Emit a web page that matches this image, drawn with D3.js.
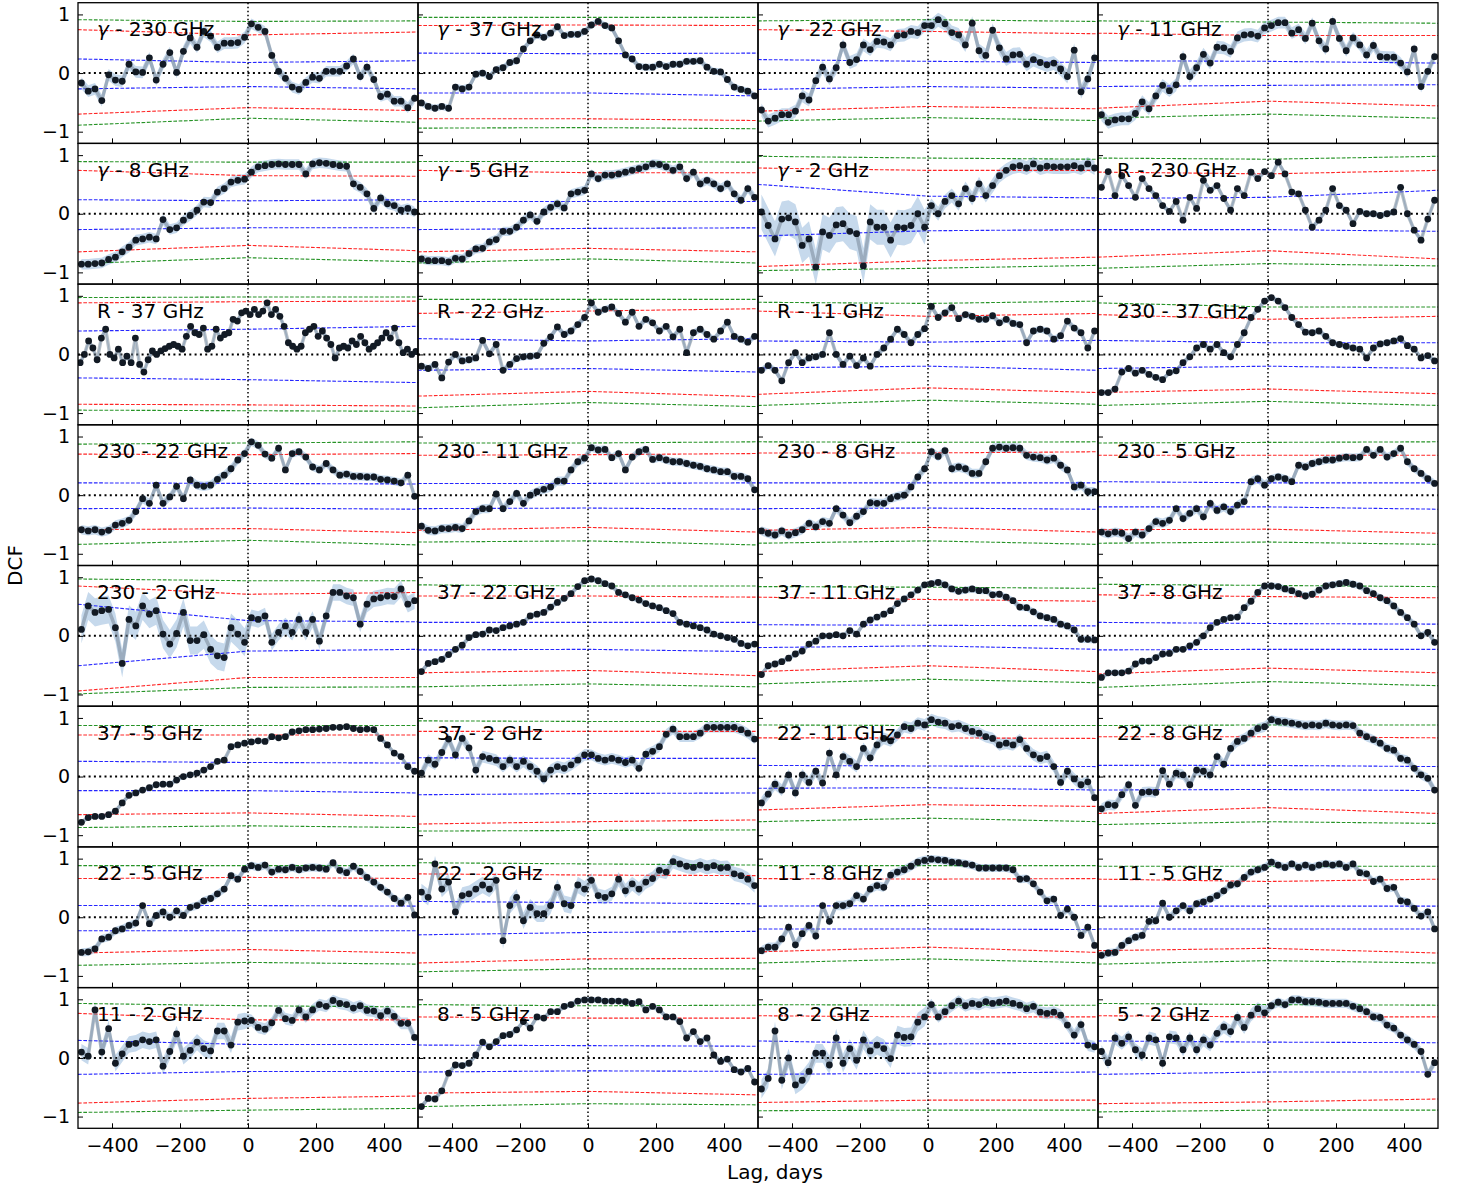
<!DOCTYPE html>
<html>
<head>
<meta charset="utf-8">
<script src="https://cdn.jsdelivr.net/npm/d3@7"></script>
<style>
  body { margin: 0; background: #fff; }
  svg { display: block; }
  text { font-family: "DejaVu Sans", sans-serif; fill: #000; }
</style>
</head>
<body>
<svg id="chart" width="1461" height="1190"></svg>
<script>
// ---- lag bins (days) ----
const lags = [-490,-470,-450,-430,-410,-390,-370,-350,-330,-310,-290,-270,-250,-230,-210,-190,-170,-150,-130,-110,-90,-70,-50,-30,-10,10,30,50,70,90,110,130,150,170,190,210,230,250,270,290,310,330,350,370,390,410,430,450,470,490];
const lagsFine = [-493.75,-481.25,-468.75,-456.25,-443.75,-431.25,-418.75,-406.25,-393.75,-381.25,-368.75,-356.25,-343.75,-331.25,-318.75,-306.25,-293.75,-281.25,-268.75,-256.25,-243.75,-231.25,-218.75,-206.25,-193.75,-181.25,-168.75,-156.25,-143.75,-131.25,-118.75,-106.25,-93.75,-81.25,-68.75,-56.25,-43.75,-31.25,-18.75,-6.25,6.25,18.75,31.25,43.75,56.25,68.75,81.25,93.75,106.25,118.75,131.25,143.75,156.25,168.75,181.25,193.75,206.25,218.75,231.25,243.75,256.25,268.75,281.25,293.75,306.25,318.75,331.25,343.75,356.25,368.75,381.25,393.75,406.25,418.75,431.25,443.75,456.25,468.75,481.25,493.75];

// ---- panel titles ----
const panelLabels = ["γ - 230 GHz","γ - 37 GHz","γ - 22 GHz","γ - 11 GHz","γ - 8 GHz","γ - 5 GHz","γ - 2 GHz","R - 230 GHz","R - 37 GHz","R - 22 GHz","R - 11 GHz","230 - 37 GHz","230 - 22 GHz","230 - 11 GHz","230 - 8 GHz","230 - 5 GHz","230 - 2 GHz","37 - 22 GHz","37 - 11 GHz","37 - 8 GHz","37 - 5 GHz","37 - 2 GHz","22 - 11 GHz","22 - 8 GHz","22 - 5 GHz","22 - 2 GHz","11 - 8 GHz","11 - 5 GHz","11 - 2 GHz","8 - 5 GHz","8 - 2 GHz","5 - 2 GHz"];

// ---- axis ticks ----
const xTickValues = [-400,-200,0,200,400];
const xTickLabels = ["−400","−200","0","200","400"];
const yTickValues = [-1,0,1];
const yTickLabels = ["−1","0","1"];

// ---- DCF values per pair ----
const dcf_g230 = [-0.17,-0.31,-0.27,-0.47,-0.03,-0.12,-0.14,0.15,0.02,0.01,0.26,-0.12,0.15,0.35,0.01,0.37,0.60,0.44,0.71,0.63,0.44,0.51,0.51,0.52,0.61,0.84,0.78,0.71,0.30,0.03,-0.09,-0.24,-0.28,-0.16,-0.07,-0.09,0.03,0.03,0.03,0.12,0.24,-0.06,0.10,-0.11,-0.40,-0.36,-0.48,-0.48,-0.59,-0.43];
const dcf_g37 = [-0.51,-0.57,-0.60,-0.57,-0.60,-0.24,-0.27,-0.24,-0.02,0.00,-0.06,0.06,0.09,0.18,0.21,0.41,0.55,0.65,0.61,0.68,0.79,0.64,0.66,0.66,0.71,0.82,0.88,0.81,0.77,0.55,0.31,0.24,0.11,0.10,0.10,0.15,0.11,0.15,0.15,0.20,0.20,0.21,0.10,0.03,0.02,-0.11,-0.24,-0.28,-0.31,-0.39];
const dcf_g22 = [-0.63,-0.82,-0.77,-0.71,-0.71,-0.65,-0.39,-0.46,-0.13,0.10,-0.10,0.09,0.48,0.18,0.23,0.48,0.40,0.54,0.53,0.48,0.64,0.65,0.71,0.69,0.81,0.81,0.91,0.84,0.69,0.65,0.48,0.85,0.38,0.30,0.73,0.43,0.24,0.31,0.32,0.15,0.23,0.18,0.14,0.17,0.07,-0.06,0.39,-0.32,-0.10,0.26];
const dcf_g11 = [-0.71,-0.84,-0.80,-0.78,-0.78,-0.69,-0.49,-0.61,-0.39,-0.21,-0.30,-0.20,0.28,-0.06,0.09,0.32,0.17,0.44,0.43,0.37,0.60,0.65,0.66,0.63,0.77,0.81,0.86,0.86,0.68,0.74,0.59,0.85,0.55,0.41,0.88,0.59,0.38,0.60,0.48,0.31,0.47,0.28,0.27,0.27,0.17,0.02,0.41,-0.23,0.03,0.28];
const dcf_g8 = [-0.86,-0.86,-0.85,-0.84,-0.78,-0.74,-0.65,-0.57,-0.45,-0.43,-0.40,-0.43,-0.10,-0.27,-0.24,-0.11,-0.03,0.06,0.20,0.19,0.37,0.43,0.54,0.57,0.59,0.71,0.80,0.82,0.84,0.85,0.84,0.84,0.84,0.68,0.85,0.87,0.86,0.84,0.82,0.81,0.51,0.45,0.34,0.09,0.27,0.17,0.14,0.06,0.09,0.03];
const dcf_g5 = [-0.77,-0.80,-0.80,-0.80,-0.82,-0.76,-0.77,-0.68,-0.60,-0.59,-0.48,-0.44,-0.30,-0.30,-0.23,-0.11,-0.02,-0.13,0.03,0.11,0.17,0.10,0.34,0.37,0.40,0.68,0.60,0.66,0.66,0.68,0.71,0.74,0.77,0.80,0.85,0.84,0.80,0.74,0.80,0.60,0.71,0.51,0.57,0.51,0.43,0.51,0.34,0.23,0.43,0.28];
const dcf_g2 = [0.03,-0.20,-0.43,-0.09,-0.07,-0.14,-0.54,-0.43,-0.91,-0.31,-0.37,-0.19,-0.17,-0.30,-0.34,-0.89,-0.14,-0.23,-0.23,-0.45,-0.23,-0.24,-0.20,0.00,-0.23,0.14,0.00,0.21,0.31,0.17,0.43,0.26,0.51,0.31,0.48,0.65,0.74,0.80,0.82,0.78,0.85,0.78,0.81,0.80,0.80,0.80,0.82,0.78,0.85,0.78];
const dcf_r230 = [0.45,0.72,0.31,0.65,0.48,0.28,0.60,0.43,0.31,0.14,0.04,0.21,-0.11,0.28,0.09,0.57,0.40,0.48,0.26,0.06,0.43,0.31,0.71,0.60,0.72,0.65,0.88,0.68,0.37,0.34,0.06,-0.23,-0.11,0.06,0.43,0.14,0.06,-0.17,0.04,0.00,0.00,-0.03,0.00,0.03,0.45,0.00,-0.28,-0.45,-0.09,0.23];
const dcf_r37 = [-0.14,0.00,0.23,0.11,-0.09,0.28,0.43,0.00,-0.06,0.09,-0.14,-0.03,-0.14,0.28,-0.17,-0.30,-0.09,0.06,0.00,0.06,0.10,0.14,0.17,0.14,0.09,0.31,0.48,0.37,0.34,0.45,0.09,0.14,0.43,0.28,0.34,0.37,0.60,0.57,0.71,0.74,0.68,0.77,0.68,0.74,0.88,0.68,0.77,0.65,0.48,0.20,0.14,0.09,0.14,0.37,0.43,0.48,0.31,0.40,0.28,0.17,-0.06,0.11,0.14,0.11,0.23,0.17,0.31,0.20,0.09,0.14,0.20,0.28,0.37,0.28,0.45,0.20,0.03,0.09,0.00,0.05];
const dcf_r22 = [-0.20,-0.24,-0.17,-0.40,-0.13,0.00,-0.11,-0.09,-0.06,0.24,0.01,0.17,-0.27,-0.17,-0.07,-0.04,-0.03,-0.02,0.19,0.30,0.47,0.34,0.40,0.51,0.63,0.88,0.72,0.77,0.81,0.70,0.55,0.72,0.48,0.60,0.54,0.40,0.48,0.30,0.43,0.03,0.37,0.43,0.34,0.26,0.40,0.55,0.31,0.26,0.21,0.31];
const dcf_r11 = [-0.27,-0.19,-0.27,-0.45,-0.14,0.03,-0.14,-0.06,-0.04,0.00,0.37,0.00,-0.17,-0.03,-0.19,-0.06,-0.20,0.00,0.11,0.26,0.43,0.34,0.20,0.34,0.44,0.82,0.63,0.71,0.80,0.61,0.68,0.65,0.60,0.60,0.66,0.54,0.60,0.53,0.51,0.20,0.40,0.43,0.40,0.26,0.32,0.57,0.45,0.37,0.11,0.40];
const dcf_230_37 = [-0.65,-0.65,-0.59,-0.30,-0.24,-0.32,-0.27,-0.34,-0.39,-0.43,-0.31,-0.28,-0.14,-0.04,0.11,0.17,0.09,0.17,0.03,-0.04,0.17,0.37,0.63,0.77,0.91,0.97,0.91,0.80,0.63,0.51,0.38,0.37,0.40,0.31,0.20,0.17,0.14,0.11,0.09,-0.06,0.11,0.18,0.20,0.23,0.27,0.15,0.09,-0.06,-0.02,-0.11];
const dcf_230_22 = [-0.59,-0.61,-0.59,-0.63,-0.60,-0.51,-0.48,-0.43,-0.28,-0.06,-0.14,0.17,-0.14,-0.03,0.15,-0.06,0.26,0.17,0.15,0.17,0.27,0.34,0.45,0.60,0.71,0.91,0.85,0.70,0.63,0.80,0.43,0.71,0.74,0.65,0.48,0.43,0.54,0.43,0.34,0.36,0.32,0.32,0.31,0.31,0.27,0.26,0.24,0.21,0.34,-0.02];
const dcf_230_11 = [-0.53,-0.60,-0.61,-0.57,-0.57,-0.55,-0.57,-0.44,-0.28,-0.23,-0.23,0.02,-0.23,-0.11,0.03,-0.14,0.00,0.06,0.10,0.14,0.24,0.24,0.43,0.57,0.63,0.81,0.77,0.78,0.64,0.71,0.43,0.65,0.74,0.78,0.61,0.64,0.60,0.57,0.57,0.54,0.51,0.49,0.45,0.43,0.40,0.40,0.32,0.32,0.28,0.09];
const dcf_230_8 = [-0.61,-0.65,-0.68,-0.61,-0.68,-0.64,-0.59,-0.48,-0.54,-0.45,-0.48,-0.23,-0.34,-0.47,-0.36,-0.28,-0.13,-0.14,-0.14,-0.06,-0.02,0.00,0.14,0.31,0.45,0.74,0.66,0.76,0.45,0.48,0.45,0.37,0.37,0.57,0.80,0.82,0.80,0.81,0.80,0.68,0.65,0.64,0.60,0.63,0.51,0.43,0.14,0.17,0.06,0.06];
const dcf_230_5 = [-0.63,-0.66,-0.63,-0.65,-0.74,-0.63,-0.68,-0.57,-0.45,-0.48,-0.43,-0.23,-0.40,-0.31,-0.23,-0.37,-0.14,-0.26,-0.20,-0.28,-0.17,-0.11,0.23,0.28,0.17,0.28,0.31,0.28,0.23,0.51,0.48,0.54,0.57,0.60,0.60,0.63,0.65,0.64,0.65,0.78,0.68,0.78,0.65,0.71,0.80,0.57,0.45,0.37,0.28,0.20];
const dcf_230_2 = [0.11,0.51,0.40,0.43,0.45,0.14,-0.47,0.28,0.17,0.51,0.37,0.43,0.03,-0.14,0.04,0.40,-0.08,-0.08,0.02,-0.23,-0.34,-0.37,0.14,0.03,-0.11,0.31,0.28,0.34,-0.11,0.06,0.17,0.06,0.28,0.06,0.28,-0.09,0.34,0.74,0.74,0.68,0.65,0.20,0.54,0.63,0.65,0.68,0.67,0.80,0.54,0.60];
const dcf_37_22 = [-0.61,-0.47,-0.44,-0.40,-0.32,-0.23,-0.16,-0.03,0.02,0.03,0.10,0.09,0.14,0.17,0.20,0.23,0.34,0.37,0.40,0.49,0.57,0.64,0.72,0.84,0.94,0.97,0.94,0.89,0.85,0.74,0.70,0.65,0.61,0.55,0.51,0.48,0.43,0.38,0.23,0.20,0.17,0.14,0.10,0.03,0.00,-0.03,-0.06,-0.13,-0.17,-0.14];
const dcf_37_11 = [-0.66,-0.51,-0.48,-0.44,-0.38,-0.31,-0.26,-0.14,-0.09,0.00,0.00,0.02,0.00,0.09,0.03,0.20,0.27,0.32,0.37,0.43,0.55,0.63,0.70,0.78,0.87,0.89,0.91,0.87,0.80,0.76,0.78,0.80,0.77,0.77,0.70,0.71,0.66,0.60,0.49,0.48,0.41,0.34,0.31,0.28,0.20,0.17,0.10,-0.06,-0.06,-0.07];
const dcf_37_8 = [-0.71,-0.63,-0.63,-0.63,-0.60,-0.48,-0.43,-0.43,-0.37,-0.31,-0.30,-0.23,-0.23,-0.17,-0.11,0.00,0.14,0.23,0.28,0.31,0.32,0.48,0.59,0.74,0.85,0.85,0.84,0.80,0.77,0.72,0.68,0.71,0.78,0.85,0.87,0.89,0.91,0.88,0.85,0.77,0.72,0.65,0.60,0.51,0.40,0.31,0.20,0.00,0.06,-0.11];
const dcf_37_5 = [-0.78,-0.70,-0.68,-0.68,-0.65,-0.59,-0.45,-0.32,-0.28,-0.23,-0.19,-0.14,-0.13,-0.13,-0.06,0.00,0.03,0.06,0.11,0.17,0.26,0.28,0.51,0.54,0.57,0.59,0.61,0.60,0.68,0.66,0.68,0.76,0.78,0.80,0.80,0.81,0.82,0.84,0.84,0.85,0.82,0.80,0.81,0.80,0.65,0.54,0.40,0.34,0.17,0.09];
const dcf_37_2 = [0.06,0.28,0.21,0.41,0.64,0.37,0.65,0.49,0.11,0.34,0.31,0.28,0.17,0.28,0.17,0.26,0.17,0.09,-0.04,0.11,0.17,0.14,0.20,0.28,0.37,0.37,0.31,0.28,0.31,0.28,0.24,0.28,0.14,0.38,0.43,0.51,0.72,0.81,0.68,0.68,0.68,0.74,0.84,0.84,0.84,0.84,0.84,0.80,0.74,0.64];
const dcf_22_11 = [-0.45,-0.30,-0.13,-0.23,0.03,-0.28,0.03,-0.10,0.09,-0.11,0.40,0.03,0.34,0.26,0.17,0.48,0.32,0.54,0.65,0.61,0.71,0.85,0.82,0.91,0.88,0.97,0.93,0.91,0.85,0.87,0.82,0.77,0.74,0.68,0.65,0.54,0.57,0.54,0.63,0.48,0.37,0.31,0.34,0.17,-0.10,0.09,-0.04,-0.14,-0.09,-0.36];
const dcf_22_8 = [-0.55,-0.48,-0.49,-0.31,-0.14,-0.49,-0.27,-0.26,-0.27,0.10,-0.13,0.06,0.03,-0.14,0.11,0.09,0.03,0.34,0.21,0.48,0.60,0.65,0.74,0.82,0.85,0.97,0.94,0.93,0.91,0.89,0.87,0.88,0.87,0.91,0.88,0.87,0.88,0.87,0.74,0.68,0.63,0.57,0.48,0.45,0.31,0.28,0.14,0.03,-0.03,-0.23];
const dcf_22_5 = [-0.60,-0.59,-0.54,-0.37,-0.34,-0.23,-0.20,-0.14,-0.10,0.20,-0.11,0.03,0.09,0.00,0.11,0.03,0.17,0.20,0.28,0.32,0.40,0.48,0.71,0.65,0.82,0.88,0.85,0.89,0.77,0.82,0.81,0.85,0.81,0.84,0.85,0.84,0.82,0.93,0.80,0.76,0.87,0.78,0.68,0.60,0.51,0.43,0.32,0.24,0.34,0.04];
const dcf_22_2 = [0.43,0.34,0.91,0.48,0.60,0.09,0.37,0.40,0.48,0.55,0.48,0.63,-0.40,0.20,0.34,-0.06,0.17,0.06,0.06,0.20,0.51,0.23,0.20,0.55,0.48,0.63,0.37,0.34,0.40,0.65,0.45,0.57,0.48,0.60,0.66,0.80,0.77,0.95,0.91,0.87,0.85,0.89,0.85,0.88,0.84,0.85,0.74,0.71,0.65,0.54];
const dcf_11_8 = [-0.57,-0.51,-0.51,-0.37,-0.17,-0.47,-0.28,-0.14,-0.32,0.20,-0.07,0.20,0.20,0.23,0.37,0.31,0.48,0.54,0.51,0.72,0.77,0.81,0.87,0.94,0.97,0.99,0.98,0.97,0.94,0.93,0.91,0.89,0.84,0.84,0.84,0.84,0.84,0.81,0.65,0.66,0.57,0.43,0.28,0.31,0.03,0.14,0.00,-0.31,-0.17,-0.48];
const dcf_11_5 = [-0.65,-0.61,-0.60,-0.48,-0.40,-0.34,-0.31,-0.07,-0.06,0.24,0.00,0.11,0.20,0.11,0.23,0.26,0.31,0.37,0.45,0.55,0.57,0.68,0.77,0.81,0.85,0.94,0.89,0.85,0.91,0.85,0.89,0.85,0.89,0.91,0.89,0.91,0.85,0.91,0.76,0.74,0.61,0.65,0.49,0.51,0.28,0.26,0.15,0.02,0.09,-0.20];
const dcf_11_2 = [0.10,0.03,0.82,0.10,0.50,-0.09,0.07,0.23,0.25,0.31,0.28,0.31,-0.14,0.11,0.41,0.03,0.13,0.27,0.16,0.12,0.46,0.46,0.22,0.61,0.63,0.64,0.52,0.49,0.60,0.81,0.67,0.64,0.82,0.70,0.82,0.91,0.88,0.98,0.93,0.91,0.85,0.89,0.81,0.80,0.72,0.80,0.71,0.59,0.59,0.35];
const dcf_8_5 = [-0.83,-0.69,-0.70,-0.56,-0.26,-0.12,-0.13,-0.09,0.05,0.27,0.19,0.28,0.38,0.40,0.48,0.62,0.51,0.70,0.68,0.79,0.79,0.88,0.91,0.97,0.99,0.99,0.99,0.97,0.97,0.97,0.96,0.93,0.96,0.82,0.88,0.82,0.70,0.70,0.62,0.34,0.45,0.28,0.34,0.05,-0.06,-0.02,-0.20,-0.24,-0.18,-0.41];
const dcf_8_2 = [-0.53,-0.35,0.46,-0.38,0.00,-0.46,-0.38,-0.23,0.08,0.08,-0.12,0.34,-0.09,0.16,-0.04,0.31,0.12,0.22,0.16,-0.01,0.39,0.35,0.36,0.61,0.70,0.91,0.70,0.79,0.89,0.97,0.89,0.93,0.91,0.96,0.93,0.95,0.97,0.93,0.90,0.84,0.88,0.78,0.76,0.78,0.73,0.56,0.39,0.57,0.22,0.19];
const dcf_5_2 = [0.11,-0.08,0.34,0.25,0.36,0.14,0.05,0.34,0.31,-0.09,0.36,0.34,0.14,0.34,0.14,0.31,0.22,0.42,0.53,0.45,0.69,0.52,0.73,0.84,0.77,0.89,0.95,0.91,0.99,0.99,0.96,0.96,0.95,0.93,0.93,0.93,0.93,0.88,0.84,0.79,0.70,0.69,0.56,0.51,0.39,0.31,0.23,0.11,-0.28,-0.08];

// ---- significance levels: rows are [99.7% upper, 95% upper, 68% upper, 68% lower, 95% lower, 99.7% lower],
//      each given at lags -500, 0, +500 ----
const sig_g230 = [[0.91,0.88,0.89],[0.74,0.65,0.70],[0.24,0.18,0.21],[-0.27,-0.23,-0.27],[-0.70,-0.59,-0.64],[-0.89,-0.77,-0.84]];
const sig_g37 = [[0.95,0.95,0.95],[0.81,0.82,0.81],[0.34,0.33,0.34],[-0.34,-0.34,-0.39],[-0.78,-0.78,-0.81],[-0.94,-0.93,-0.95]];
const sig_g22 = [[0.89,0.91,0.88],[0.74,0.71,0.67],[0.23,0.20,0.18],[-0.28,-0.23,-0.26],[-0.65,-0.57,-0.61],[-0.82,-0.76,-0.81]];
const sig_g11 = [[0.89,0.87,0.85],[0.68,0.64,0.64],[0.21,0.20,0.17],[-0.23,-0.21,-0.20],[-0.60,-0.48,-0.56],[-0.77,-0.70,-0.77]];
const sig_g8 = [[0.89,0.88,0.88],[0.74,0.65,0.64],[0.24,0.22,0.24],[-0.27,-0.24,-0.24],[-0.65,-0.54,-0.63],[-0.85,-0.75,-0.82]];
const sig_g5 = [[0.89,0.89,0.88],[0.74,0.70,0.70],[0.21,0.21,0.21],[-0.27,-0.25,-0.24],[-0.65,-0.59,-0.65],[-0.84,-0.77,-0.84]];
const sig_g2 = [[0.98,0.95,0.93],[0.78,0.74,0.74],[0.50,0.30,0.27],[-0.38,-0.29,-0.27],[-0.90,-0.80,-0.74],[-0.97,-0.93,-0.88]];
const sig_r230 = [[0.95,0.93,0.98],[0.71,0.68,0.74],[0.26,0.28,0.40],[-0.27,-0.27,-0.30],[-0.74,-0.63,-0.77],[-0.93,-0.85,-0.89]];
const sig_r37 = [[0.97,0.98,0.98],[0.88,0.90,0.91],[0.40,0.43,0.48],[-0.40,-0.43,-0.48],[-0.85,-0.86,-0.88],[-0.95,-0.96,-0.97]];
const sig_r22 = [[0.94,0.94,0.94],[0.70,0.74,0.78],[0.27,0.23,0.27],[-0.27,-0.24,-0.30],[-0.71,-0.63,-0.72],[-0.91,-0.82,-0.89]];
const sig_r11 = [[0.89,0.87,0.91],[0.74,0.65,0.70],[0.23,0.21,0.24],[-0.23,-0.20,-0.27],[-0.68,-0.57,-0.65],[-0.87,-0.78,-0.85]];
const sig_230_37 = [[0.88,0.81,0.81],[0.68,0.60,0.65],[0.24,0.20,0.20],[-0.24,-0.20,-0.24],[-0.65,-0.59,-0.67],[-0.87,-0.80,-0.87]];
const sig_230_22 = [[0.87,0.89,0.91],[0.70,0.69,0.71],[0.21,0.20,0.19],[-0.23,-0.22,-0.24],[-0.59,-0.57,-0.64],[-0.84,-0.77,-0.85]];
const sig_230_11 = [[0.89,0.89,0.91],[0.68,0.69,0.71],[0.20,0.20,0.21],[-0.23,-0.22,-0.24],[-0.60,-0.55,-0.63],[-0.80,-0.78,-0.85]];
const sig_230_8 = [[0.91,0.90,0.91],[0.72,0.72,0.74],[0.21,0.21,0.21],[-0.23,-0.22,-0.24],[-0.60,-0.55,-0.63],[-0.82,-0.78,-0.84]];
const sig_230_5 = [[0.89,0.90,0.91],[0.68,0.68,0.68],[0.23,0.21,0.21],[-0.20,-0.20,-0.24],[-0.59,-0.58,-0.65],[-0.82,-0.80,-0.84]];
const sig_230_2 = [[0.97,0.94,0.94],[0.85,0.71,0.74],[0.54,0.26,0.24],[-0.51,-0.26,-0.23],[-0.94,-0.71,-0.71],[-0.99,-0.88,-0.87]];
const sig_37_22 = [[0.87,0.85,0.85],[0.68,0.68,0.66],[0.23,0.23,0.23],[-0.24,-0.23,-0.27],[-0.63,-0.59,-0.68],[-0.87,-0.82,-0.87]];
const sig_37_11 = [[0.84,0.83,0.81],[0.66,0.62,0.59],[0.19,0.18,0.17],[-0.20,-0.17,-0.23],[-0.61,-0.51,-0.61],[-0.82,-0.74,-0.80]];
const sig_37_8 = [[0.88,0.86,0.84],[0.70,0.67,0.65],[0.23,0.21,0.20],[-0.24,-0.23,-0.23],[-0.65,-0.55,-0.63],[-0.88,-0.78,-0.85]];
const sig_37_5 = [[0.87,0.87,0.87],[0.71,0.71,0.71],[0.26,0.24,0.23],[-0.24,-0.24,-0.28],[-0.65,-0.62,-0.68],[-0.87,-0.84,-0.87]];
const sig_37_2 = [[0.95,0.94,0.94],[0.77,0.77,0.77],[0.32,0.31,0.31],[-0.31,-0.29,-0.28],[-0.81,-0.77,-0.74],[-0.93,-0.92,-0.91]];
const sig_22_11 = [[0.88,0.87,0.87],[0.66,0.66,0.65],[0.19,0.18,0.17],[-0.20,-0.19,-0.23],[-0.57,-0.48,-0.51],[-0.77,-0.71,-0.77]];
const sig_22_8 = [[0.87,0.88,0.88],[0.68,0.68,0.66],[0.19,0.19,0.17],[-0.23,-0.22,-0.24],[-0.63,-0.53,-0.63],[-0.82,-0.77,-0.80]];
const sig_22_5 = [[0.88,0.88,0.88],[0.66,0.68,0.66],[0.20,0.20,0.19],[-0.23,-0.23,-0.23],[-0.61,-0.55,-0.61],[-0.82,-0.77,-0.80]];
const sig_22_2 = [[0.93,0.91,0.89],[0.74,0.72,0.71],[0.27,0.25,0.23],[-0.30,-0.26,-0.24],[-0.78,-0.71,-0.70],[-0.93,-0.88,-0.88]];
const sig_11_8 = [[0.88,0.88,0.88],[0.66,0.65,0.66],[0.19,0.20,0.20],[-0.20,-0.20,-0.21],[-0.59,-0.51,-0.60],[-0.78,-0.71,-0.78]];
const sig_11_5 = [[0.87,0.87,0.87],[0.65,0.61,0.65],[0.19,0.19,0.19],[-0.20,-0.20,-0.20],[-0.57,-0.53,-0.61],[-0.80,-0.74,-0.78]];
const sig_11_2 = [[0.93,0.89,0.87],[0.76,0.65,0.65],[0.30,0.23,0.23],[-0.28,-0.23,-0.23],[-0.77,-0.69,-0.65],[-0.93,-0.89,-0.86]];
const sig_8_5 = [[0.91,0.89,0.90],[0.70,0.68,0.68],[0.22,0.21,0.20],[-0.24,-0.22,-0.23],[-0.60,-0.57,-0.63],[-0.83,-0.78,-0.80]];
const sig_8_2 = [[0.91,0.90,0.90],[0.72,0.70,0.70],[0.29,0.24,0.25],[-0.28,-0.26,-0.24],[-0.76,-0.72,-0.72],[-0.90,-0.89,-0.89]];
const sig_5_2 = [[0.93,0.91,0.90],[0.72,0.70,0.70],[0.29,0.27,0.26],[-0.28,-0.24,-0.24],[-0.78,-0.75,-0.70],[-0.92,-0.89,-0.89]];

// ---- DCF uncertainty (half-width) for negative and positive lags ----
const dcfErr = [[0.10,0.09],[0.06,0.06],[0.11,0.12],[0.11,0.10],[0.09,0.09],[0.08,0.08],[0.30,0.12],[0.05,0.05],
                [0.05,0.05],[0.06,0.06],[0.06,0.06],[0.05,0.05],[0.08,0.07],[0.08,0.07],[0.08,0.08],[0.08,0.07],
                [0.24,0.14],[0.05,0.05],[0.05,0.06],[0.05,0.06],[0.04,0.04],[0.10,0.09],[0.10,0.10],[0.09,0.08],
                [0.07,0.07],[0.14,0.12],[0.08,0.07],[0.07,0.07],[0.14,0.10],[0.05,0.05],[0.16,0.10],[0.11,0.08]];

const dcfSeries = [dcf_g230,dcf_g37,dcf_g22,dcf_g11,dcf_g8,dcf_g5,dcf_g2,dcf_r230,dcf_r37,dcf_r22,dcf_r11,dcf_230_37,
  dcf_230_22,dcf_230_11,dcf_230_8,dcf_230_5,dcf_230_2,dcf_37_22,dcf_37_11,dcf_37_8,dcf_37_5,dcf_37_2,dcf_22_11,dcf_22_8,
  dcf_22_5,dcf_22_2,dcf_11_8,dcf_11_5,dcf_11_2,dcf_8_5,dcf_8_2,dcf_5_2];
const sigSeries = [sig_g230,sig_g37,sig_g22,sig_g11,sig_g8,sig_g5,sig_g2,sig_r230,sig_r37,sig_r22,sig_r11,sig_230_37,
  sig_230_22,sig_230_11,sig_230_8,sig_230_5,sig_230_2,sig_37_22,sig_37_11,sig_37_8,sig_37_5,sig_37_2,sig_22_11,sig_22_8,
  sig_22_5,sig_22_2,sig_11_8,sig_11_5,sig_11_2,sig_8_5,sig_8_2,sig_5_2];
const sigNodes = [-500, 0, 500];
const sigColors = ["green","red","blue","blue","red","green"];

// ---- layout ----
const svg = d3.select("#chart");
const gridLeft = 78, gridTop = 2.7, cellW = 340, cellH = 140.7, nCols = 4, nRows = 8;

const panels = panelLabels.map((label, i) => ({
  label,
  lags: dcfSeries[i].length === lagsFine.length ? lagsFine : lags,
  values: dcfSeries[i],
  sig: sigSeries[i],
  err: dcfErr[i]
}));

const defs = svg.append("defs");

panels.forEach((p, i) => {
  const col = i % nCols, row = Math.floor(i / nCols);
  const x0 = gridLeft + col * cellW, y0 = gridTop + row * cellH;
  const x = d3.scaleLinear().domain([-500, 500]).range([x0, x0 + cellW]);
  const y = d3.scaleLinear().domain([-1.2, 1.2]).range([y0 + cellH, y0]);

  defs.append("clipPath").attr("id", "clip" + i)
    .append("rect").attr("x", x0).attr("y", y0).attr("width", cellW).attr("height", cellH);

  const g = svg.append("g");
  const body = g.append("g").attr("clip-path", `url(#clip${i})`);
  const pts = p.lags.map((lag, k) => ({ lag, v: p.values[k], e: lag < 0 ? p.err[0] : p.err[1] }));

  // uncertainty band
  body.append("path").datum(pts)
    .attr("d", d3.area().x(d => x(d.lag)).y0(d => y(d.v - d.e)).y1(d => y(d.v + d.e)))
    .attr("fill", "#c6d9ec");

  // significance levels
  p.sig.forEach((lv, k) => {
    body.append("path").datum(sigNodes.map((n, j) => [n, lv[j]]))
      .attr("d", d3.line().x(d => x(d[0])).y(d => y(d[1])))
      .attr("fill", "none").attr("stroke", sigColors[k]).attr("stroke-width", 1.1)
      .attr("stroke-dasharray", "3.7,1.6").attr("stroke-opacity", 0.85);
  });

  // zero-correlation and zero-lag guides
  body.append("line").attr("x1", x0).attr("x2", x0 + cellW).attr("y1", y(0)).attr("y2", y(0))
    .attr("stroke", "#000").attr("stroke-width", 2).attr("stroke-dasharray", "2,3.3");
  body.append("line").attr("x1", x(0)).attr("x2", x(0)).attr("y1", y0).attr("y2", y0 + cellH)
    .attr("stroke", "#000").attr("stroke-width", 1.5).attr("stroke-dasharray", "1.5,2.5");

  // DCF curve and points
  body.append("path").datum(pts)
    .attr("d", d3.line().x(d => x(d.lag)).y(d => y(d.v)))
    .attr("fill", "none").attr("stroke", "rgb(112,128,144)").attr("stroke-opacity", 0.5)
    .attr("stroke-width", 3.5).attr("stroke-linejoin", "round");
  body.selectAll("circle").data(pts).join("circle")
    .attr("cx", d => x(d.lag)).attr("cy", d => y(d.v)).attr("r", 3.4).attr("fill", "#121a24");

  // panel title
  const t = g.append("text").attr("x", x0 + 19).attr("y", y0 + 33.5).attr("font-size", 20);
  if (p.label.startsWith("γ")) {
    t.append("tspan").attr("font-style", "italic").text("γ");
    t.append("tspan").text(p.label.slice(1));
  } else {
    t.text(p.label);
  }

  // axes (inward ticks)
  const xAxis = d3.axisBottom(x).tickValues(xTickValues).tickSize(-5).tickPadding(10)
    .tickFormat((d, k) => row === nRows - 1 ? xTickLabels[k] : "");
  const gx = g.append("g").attr("transform", `translate(0,${y0 + cellH})`).call(xAxis);
  const yAxis = d3.axisLeft(y).tickValues(yTickValues).tickSize(-5).tickPadding(8)
    .tickFormat((d, k) => col === 0 ? yTickLabels[k] : "");
  const gy = g.append("g").attr("transform", `translate(${x0},0)`).call(yAxis);
  [gx, gy].forEach(a => {
    a.select(".domain").remove();
    a.selectAll("line").attr("stroke", "#000").attr("stroke-width", 1);
    a.selectAll("text").attr("font-size", 19).attr("font-family", "DejaVu Sans, sans-serif").attr("fill", "#000");
  });

  // frame
  g.append("rect").attr("x", x0).attr("y", y0).attr("width", cellW).attr("height", cellH)
    .attr("fill", "none").attr("stroke", "#000").attr("stroke-width", 1.3);
});

// axis titles
svg.append("text").attr("x", 775).attr("y", 1179).attr("text-anchor", "middle").attr("font-size", 20).text("Lag, days");
svg.append("text").attr("transform", "translate(22,565.5) rotate(-90)").attr("text-anchor", "middle")
  .attr("font-size", 20).text("DCF");
</script>
</body>
</html>
